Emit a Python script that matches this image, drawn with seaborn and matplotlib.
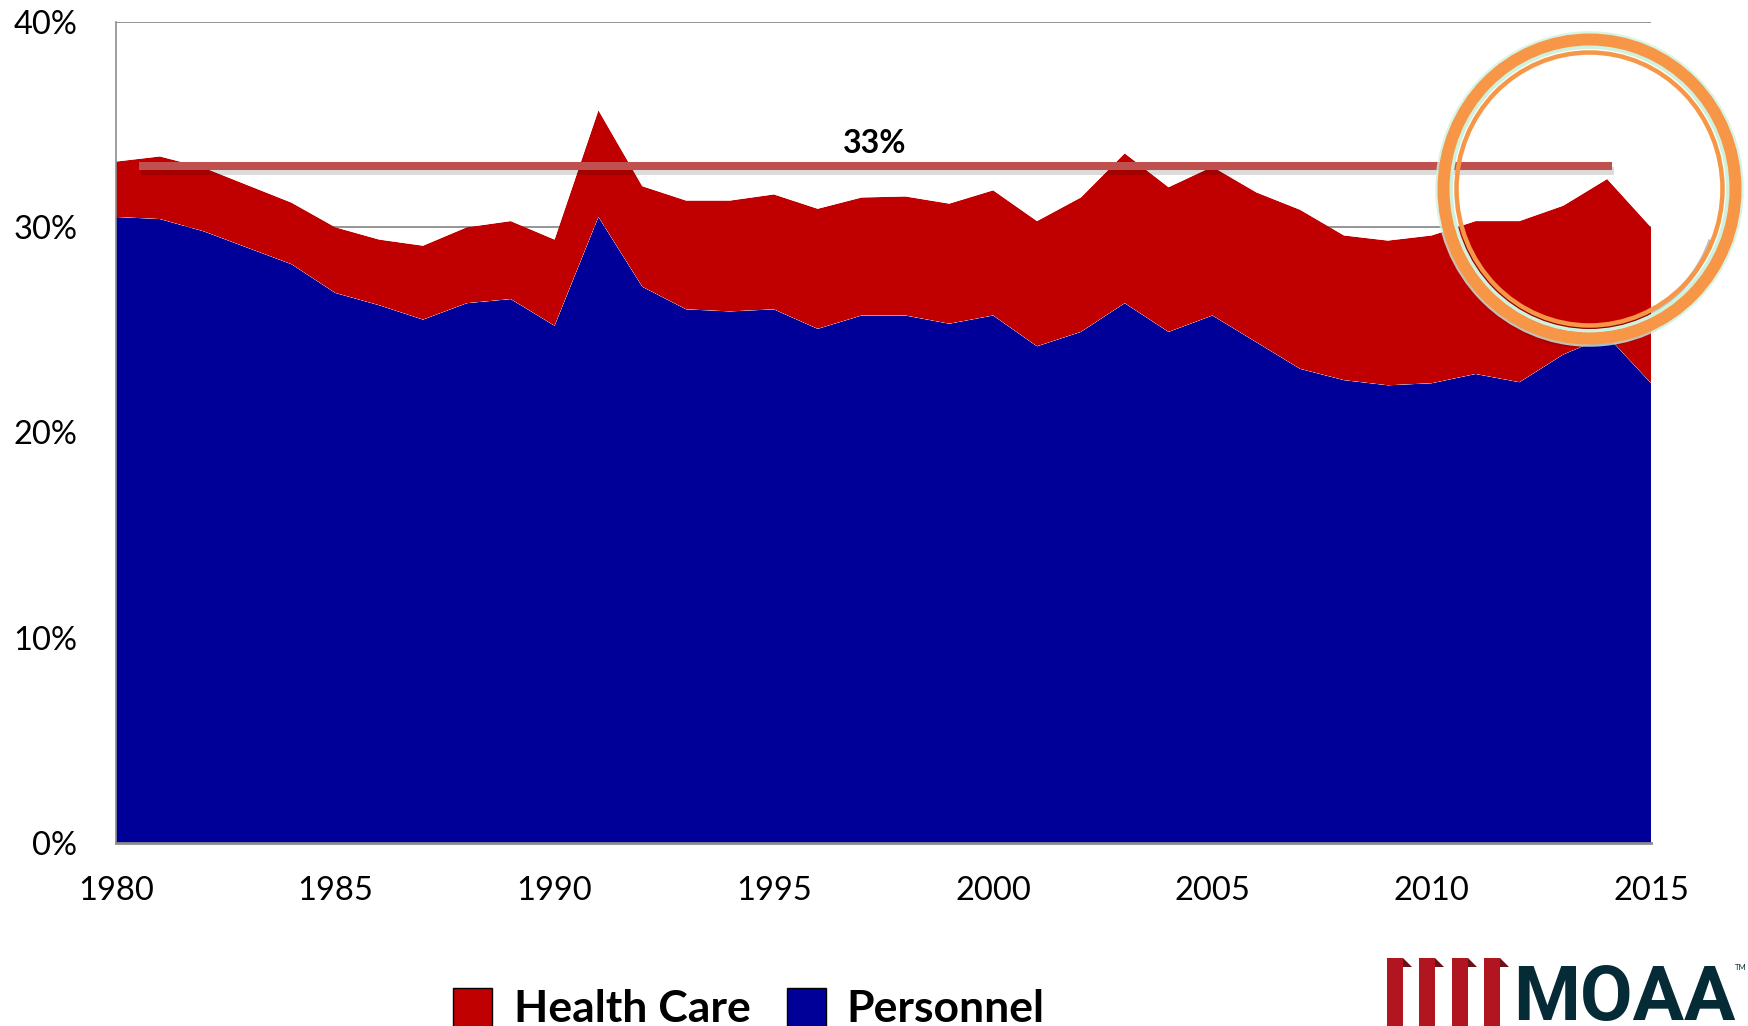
import matplotlib
matplotlib.use("Agg")
import matplotlib.pyplot as plt
import matplotlib.patheffects as pe
from matplotlib.patches import Rectangle, Ellipse, Polygon, Arc
import pandas as pd
import seaborn as sns
import seaborn.objects as so

# ---- data: share of the defense budget (%) ----
years = list(range(1980, 2016))
personnel = [30.5, 30.4, 29.8, 29.0, 28.2, 26.8, 26.2, 25.5, 26.3, 26.5,
             25.2, 30.5, 27.1, 26.0, 25.9, 26.0, 25.05, 25.7, 25.7, 25.3,
             25.7, 24.2, 24.9, 26.3, 24.9, 25.7, 24.4, 23.1, 22.55, 22.3,
             22.4, 22.85, 22.45, 23.8, 24.7, 22.4]
health_care = [2.7, 3.05, 3.1, 3.05, 3.0, 3.2, 3.2, 3.6, 3.7, 3.8,
               4.2, 5.2, 4.9, 5.3, 5.4, 5.6, 5.85, 5.75, 5.8, 5.85,
               6.1, 6.1, 6.55, 7.3, 7.05, 7.25, 7.3, 7.75, 7.05, 7.05,
               7.2, 7.45, 7.85, 7.25, 7.65, 7.6]
series_names = ["Personnel", "Health Care"]
y_ticks = [0, 10, 20, 30, 40]
x_major = [1980, 1985, 1990, 1995, 2000, 2005, 2010, 2015]
average_share = 33.0
average_span = [1980.53, 2014.12]

# ---- style ----
RED = "#C00000"
BLUE = "#000099"
GRID = "#8C8C8C"
AVG_LINE = "#C0504D"
ORANGE = "#F79646"
MINT = "#CFF2DF"
LOGO_RED = "#B01520"
LOGO_DARK = "#6E1016"
TEAL = "#052B36"

W, H = 1748, 1026
sns.set_theme(style="white")
FONT = ["Lato", "DejaVu Sans"]
plt.rcParams["font.family"] = FONT

fig = plt.figure(figsize=(W / 100, H / 100), dpi=100)
ax = fig.add_axes([116 / W, 1 - 843 / H, (1651 - 116) / W, (843 - 22) / H])

n = len(years)
df = pd.DataFrame({
    "year": years * 2,
    "share": personnel + health_care,
    "component": [series_names[0]] * n + [series_names[1]] * n,
})

(
    so.Plot(df, x="year", y="share", color="component")
    .add(so.Area(alpha=1, edgewidth=0), so.Stack(), legend=False)
    .scale(color=so.Nominal({"Personnel": BLUE, "Health Care": RED},
                            order=series_names))
    .on(ax)
    .plot()
)

# ---- axes ----
ax.set_xlim(1980, 2015)
ax.set_ylim(0, 40)
ax.set_xlabel("")
ax.set_ylabel("")
ax.set_facecolor("white")
ax.set_xticks(x_major)
ax.set_xticks(years, minor=True)
ax.set_xticklabels([str(v) for v in x_major], fontfamily=FONT, fontsize=23.5)
ax.set_yticks(y_ticks)
ax.set_yticklabels([f"{v}%" for v in y_ticks], fontfamily=FONT, fontsize=23.5)
ax.tick_params(axis="both", which="both", direction="out", length=9,
               width=1.0, color=GRID, labelcolor="black")
ax.tick_params(axis="x", which="major", pad=15)
ax.tick_params(axis="y", which="major", pad=19)
ax.tick_params(axis="y", which="minor", left=False)
ax.set_axisbelow(True)
ax.grid(False)
ax.yaxis.grid(True, color=GRID, linewidth=1.3)
for side in ("top", "right"):
    ax.spines[side].set_visible(False)
ax.spines["left"].set_color(GRID)
ax.spines["left"].set_linewidth(1.2)
ax.spines["bottom"].set_color(GRID)
ax.spines["bottom"].set_linewidth(2.0)
ax.spines["bottom"].set_zorder(5)

# ---- long-run average line ----
ax.plot(average_span, [average_share, average_share], color=AVG_LINE,
        lw=5.8, solid_capstyle="butt", zorder=4,
        path_effects=[pe.SimpleLineShadow(offset=(1, -3.5), shadow_color="black",
                                          alpha=0.14),
                      pe.Normal()])
ax.text(1997.3, average_share + 0.6, f"{average_share:.0f}%", ha="center",
        va="baseline", fontsize=23, fontweight="bold", color="black",
        fontfamily=FONT, zorder=6)


# ---- highlight ring (pixel geometry) ----
def px(x, y):
    return (x / W, 1 - y / H)


CX, CY = 1589.5, 189


def ring(rx, ry, lw_px, color, alpha=1.0, dx=0.0, dy=0.0, z=10):
    e = Ellipse(((CX + dx) / 100, (H - CY - dy) / 100), 2 * rx / 100, 2 * ry / 100,
                transform=fig.dpi_scale_trans, fill=False, ec=color,
                lw=lw_px * 0.72, alpha=alpha, zorder=z)
    fig.add_artist(e)


def shadow_arc(rx, ry, lw_px, alpha, dx, dy, t1, t2):
    a = Arc(((CX + dx) / 100, (H - CY - dy) / 100), 2 * rx / 100, 2 * ry / 100,
            theta1=t1, theta2=t2, transform=fig.dpi_scale_trans,
            color="black", lw=lw_px * 0.72, alpha=alpha, zorder=9)
    fig.add_artist(a)


# soft drop shadow along the lower part of the rings
shadow_arc(143, 146.5, 10, 0.10, -2, 8, 185, 355)
shadow_arc(143, 146.5, 8, 0.18, -2, 6, 200, 340)
shadow_arc(131, 134.5, 5, 0.25, -2, 6, 200, 340)
# glow + rings
ring(152.5, 156, 3.5, MINT, alpha=0.8)
ring(138.5, 142, 4, MINT, alpha=1.0)
ring(146, 149.5, 12, ORANGE)
ring(133, 136.5, 4.5, ORANGE)

# ---- legend ----
legend_items = [(453, 514, RED, "Health Care"), (787, 846, BLUE, "Personnel")]
for sx, tx, col, label in legend_items:
    x0, y0 = px(sx, 1030)
    fig.add_artist(Rectangle((x0, y0), 39 / W, 42 / H, transform=fig.transFigure,
                             fc=col, ec="black", lw=1.0, zorder=10))
    fig.text(tx / W, 1 - 1022 / H, label, fontsize=32, fontweight="bold",
             color="black", ha="left", va="baseline", fontfamily=FONT)

# ---- logo ----
for bx in (1387, 1419, 1452, 1484):
    x0, y0 = px(bx, 1030)
    fig.add_artist(Rectangle((x0, y0), 16 / W, (1030 - 958) / H,
                             transform=fig.transFigure, fc=LOGO_RED, ec="none",
                             zorder=10))
    fig.add_artist(Polygon([px(bx + 16, 958), px(bx + 25, 967), px(bx + 16, 967)],
                           closed=True, transform=fig.transFigure,
                           fc=LOGO_DARK, ec="none", zorder=10))
fig.text(1513 / W, 1 - 1020 / H, "MOAA", fontsize=55, fontweight="bold",
         fontfamily=["Roboto", "DejaVu Sans"], color=TEAL, ha="left",
         va="baseline")
fig.text(1735 / W, 1 - 964 / H, "TM", fontsize=5.5, color=TEAL, ha="left",
         va="top", fontfamily=FONT)

fig.savefig("out.png", dpi=100, facecolor="white")
